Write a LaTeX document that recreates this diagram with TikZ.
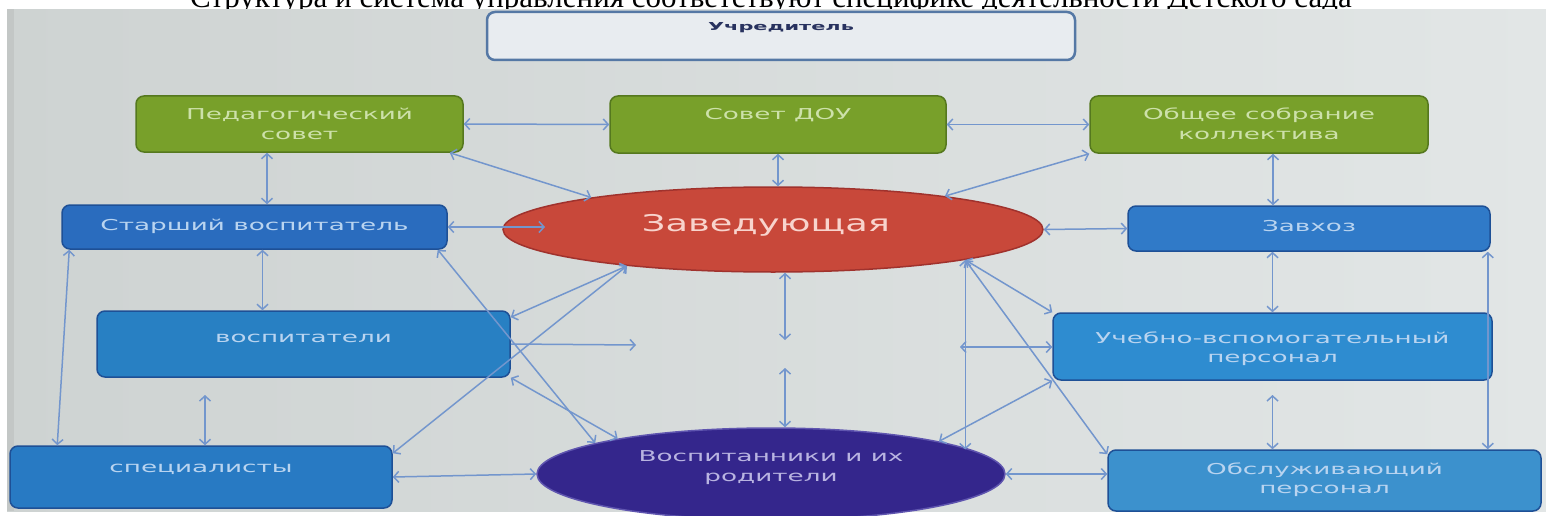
\documentclass[tikz,border=0pt]{standalone}
\usepackage{fontspec}
\usetikzlibrary{arrows.meta,shapes.geometric}
\newfontfamily\titlefont{Liberation Serif}
\newfontfamily\bxfont[FakeStretch=1.75]{DejaVu Sans}
\newfontfamily\zfont[FakeStretch=1.6]{DejaVu Sans}
\newfontfamily\ucfont[FakeStretch=1.9]{DejaVu Sans}
\definecolor{bgL}{RGB}{206,211,210}
\definecolor{bgM}{RGB}{236,239,239}
\definecolor{bgR}{RGB}{226,230,230}
\definecolor{grn}{RGB}{120,160,42}
\definecolor{grnD}{RGB}{85,120,30}
\definecolor{grnT}{RGB}{205,225,170}
\definecolor{bluA}{RGB}{42,108,190}
\definecolor{bluB}{RGB}{48,122,200}
\definecolor{bluC}{RGB}{40,128,195}
\definecolor{bluD}{RGB}{46,140,208}
\definecolor{bluE}{RGB}{40,122,195}
\definecolor{bluF}{RGB}{60,145,205}
\definecolor{bluBd}{RGB}{30,80,150}
\definecolor{bluT}{RGB}{185,212,240}
\definecolor{redE}{RGB}{200,72,58}
\definecolor{redD}{RGB}{160,50,45}
\definecolor{redT}{RGB}{248,212,205}
\definecolor{purE}{RGB}{52,38,140}
\definecolor{purD}{RGB}{95,85,175}
\definecolor{purT}{RGB}{185,180,225}
\definecolor{arr}{RGB}{115,150,205}
\definecolor{ucF}{RGB}{232,236,240}
\definecolor{ucD}{RGB}{85,120,165}
\definecolor{ucT}{RGB}{40,50,95}
\begin{document}
\begin{tikzpicture}[x=1pt,y=-1pt,
  >={Straight Barb[length=5pt,width=11pt]},
  box/.style={rectangle, rounded corners=8pt, line width=1.5pt, inner sep=0pt},
  gbox/.style={box, fill=grn, draw=grnD},
  bbox/.style={box, draw=bluBd},
  ubox/.style={box, fill=ucF, draw=ucD, line width=2.5pt},
  gtxt/.style={text=grnT, font=\bxfont\fontsize{15}{20}\selectfont, align=center},
  btxt/.style={text=bluT, font=\bxfont\fontsize{15}{19}\selectfont, align=center},
  utxt/.style={text=ucT, font=\ucfont\bfseries\fontsize{11}{13}\selectfont},
  zell/.style={ellipse, fill=redE, draw=redD, line width=1.5pt, minimum width=540pt, minimum height=85pt, inner sep=0pt},
  pell/.style={ellipse, fill=purE, draw=purD, line width=1.5pt, minimum width=468pt, minimum height=92pt, inner sep=0pt},
  link/.style={draw=arr, line width=1.5pt, <->},
  olink/.style={draw=arr, line width=1.5pt, ->}]
\useasboundingbox (0,0) rectangle (1546,516);
\node[anchor=base, font=\titlefont\fontsize{31}{31}\selectfont] (title) at (771,7.5) {Структура и система управления соответствуют специфике деятельности Детского сада};
\shade[left color=bgL, middle color=bgM, right color=bgR] (7,9.5) rectangle (1546,511);
\fill[bgL!85!black, opacity=0.35] (7,9.5) rectangle (14,511);
% boxes
\node[ubox, minimum width=588pt, minimum height=48pt] (ucr) at (781,36) {};
\node[utxt] (ucrT) at (781,28) {Учредитель};
\node[gbox, minimum width=327pt, minimum height=56pt] (ped) at (299.5,124) {};
\node[gtxt] (pedT) at (299.5,123.5) {Педагогический\\совет};
\node[gbox, minimum width=336pt, minimum height=57pt] (sov) at (778,124.5) {};
\node[gtxt] (sovT) at (778,115) {Совет ДОУ};
\node[gbox, minimum width=338pt, minimum height=57pt] (obsh) at (1259,124.5) {};
\node[gtxt] (obshT) at (1259,123.5) {Общее собрание\\коллектива};
\node[bbox, fill=bluA, minimum width=385pt, minimum height=44pt] (star) at (254.5,227) {};
\node[btxt] (starT) at (254.5,226) {Старший воспитатель};
\node[zell] (zav) at (773,229.5) {};
\node[text=redT, font=\zfont\fontsize{23}{26}\selectfont] (zavT) at (766,225) {Заведующая};
\node[bbox, fill=bluB, minimum width=362pt, minimum height=45pt] (zavh) at (1309,228.5) {};
\node[btxt] (zavhT) at (1309,226) {Завхоз};
\node[bbox, fill=bluC, minimum width=413pt, minimum height=66pt] (vos) at (303.5,344) {};
\node[btxt] (vosT) at (303.5,338) {воспитатели};
\node[bbox, fill=bluD, minimum width=439pt, minimum height=67pt] (uch) at (1272.5,346.5) {};
\node[btxt] (uchT) at (1272.5,349) {Учебно-вспомогательный\\персонал};
\node[bbox, fill=bluE, minimum width=382pt, minimum height=62pt] (spec) at (201,477) {};
\node[btxt] (specT) at (201,469) {специалисты};
\node[pell] (vosp) at (771,474) {};
\node[text=purT, font=\bxfont\fontsize{15}{20}\selectfont, align=center] (vospT) at (771,468) {Воспитанники и их\\родители};
\node[bbox, fill=bluF, minimum width=433pt, minimum height=61pt] (obsl) at (1324.5,480.5) {};
\node[btxt] (obslT) at (1324.5,480) {Обслуживающий\\персонал};
% helper coordinates
\coordinate (pedS) at ([xshift=-32.5pt]ped.south);
\coordinate (obshS) at ([xshift=14pt]obsh.south);
\coordinate (starS) at ([xshift=8pt]star.south);
\coordinate (starSW) at ([xshift=8pt]star.south west);
\coordinate (starSE) at ([xshift=-10pt]star.south east);
\coordinate (specNW) at ([xshift=48pt]spec.north west);
\coordinate (specNE) at ([yshift=-8pt]spec.north east);
\coordinate (vosNE) at ([yshift=-7pt]vos.north east);
\coordinate (pedSE) at ([xshift=-14pt]ped.south east);
\coordinate (zavhSE) at ([xshift=-3pt]zavh.south east);
\coordinate (obslNW) at ([yshift=-5pt]obsl.north west);
\coordinate (zin) at (545,227);
\coordinate (vs) at (205,395);
\coordinate (hv) at (636,345);
\coordinate (m1) at (785,340);
\coordinate (m2) at (785,368);
\coordinate (u2) at (1272.5,395);
\coordinate (hr) at (960,347);
% connectors
\draw[link] (ped.east) -- (sov.west);
\draw[link] (sov.east) -- (obsh.west);
\draw[link] (pedSE) -- (zav.170);
\draw[link] (obsh.south west) -- (zav.11);
\draw[link] (sov.south) -- (sov.south |- zav.north);
\draw[link] (pedS) -- (pedS |- star.north);
\draw[link] (obshS) -- (obshS |- zavh.north);
\draw[link] (star.east) -- (zin);
\draw[link] (zav.east) -- (zavh.west);
\draw[link] (starS) -- (starS |- vos.north);
\draw[link] (starSW) -- (specNW);
\draw[link] (vs) -- (vs |- spec.north);
\draw[link] (starSE) -- (vosp.170);
\draw[link] (vosNE) -- (zav.194);
\draw[link] (specNE) -- (zav.194);
\draw[link] (vos.south east) -- (vosp.167);
\draw[olink] (vos.east) -- (hv);
\draw[link] (spec.east) -- (vosp.west);
\draw[link] (m1 |- zav.south) -- (m1);
\draw[link] (m2) -- (m2 |- vosp.north);
\draw[link] (uch.north |- zavh.south) -- (uch.north);
\draw[link] (u2) -- (u2 |- obsl.north);
\draw[link] (zavhSE) -- (zavhSE |- obsl.north);
\draw[link] (zav.351) -- (uch.north west);
\draw[link] (zav.351) -- (obslNW);
\draw[link] (zav.351) -- (zav.351 |- vosp.7);
\draw[link] (hr) -- (hr -| uch.west);
\draw[link] (vosp.11) -- (uch.south west);
\draw[link] (vosp.east) -- (vosp.east -| obsl.west);
\end{tikzpicture}
\end{document}
